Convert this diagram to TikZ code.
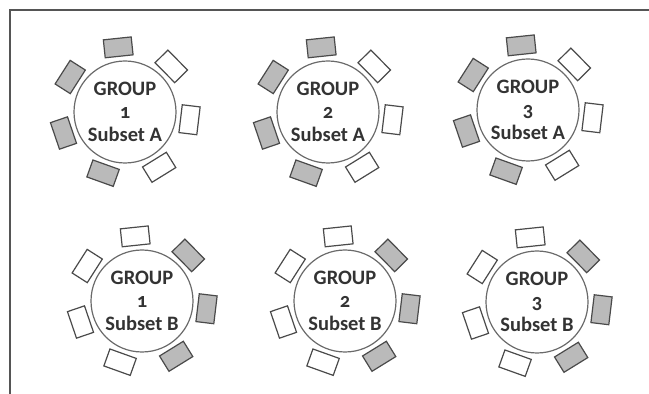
\documentclass[tikz,border=0pt]{standalone}
\usepackage{fontspec}
\setmainfont{Carlito}[Numbers=OldStyle]
\usetikzlibrary{calc}
\definecolor{ink}{HTML}{333333}
\definecolor{rim}{HTML}{6A6A6A}
\definecolor{seatgray}{HTML}{BABABA}
\definecolor{seatline}{HTML}{4A4A4A}
\definecolor{framec}{HTML}{555555}
\begin{document}
\begin{tikzpicture}[x=1pt,y=1pt,
  tablec/.style={circle, draw=rim, line width=1.2pt, minimum size=102pt, inner sep=0pt,
    align=center, font=\bfseries\fontsize{20.5}{23}\selectfont, text=ink},
  seatbox/.style={draw=seatline, line width=1.2pt, minimum width=28pt, minimum height=18pt, inner sep=0pt},
  seat1/.style={seatbox, fill=seatgray},
  seat0/.style={seatbox, fill=white}]
\useasboundingbox (0,0) rectangle (649,394);
\draw[framec, line width=1.5pt] (649,384) coordinate (fr) -- (10,384) coordinate (fc) -- (10,0) coordinate (fb);
\foreach \name/\x/\y/\num/\sub/\flip in {g1a/125/282/1/A/0, g2a/328/282/2/A/0, g3a/528/284/3/A/0,
    g1b/142/93/1/B/1, g2b/345/93/2/B/1, g3b/537/92/3/B/1} {
  \node[tablec] (\name) at (\x,\y) {GROUP\\\num\\Subset \sub};
  \foreach \k in {0,...,6} {
    \pgfmathsetmacro\ang{96-\k*360/7}
    \pgfmathsetmacro\rot{\ang-90}
    \pgfmathtruncatemacro\g{abs(\flip-(((\k==0)||(\k>3))?1:0))}
    \node[seat\g, rotate=\rot] (\name-c\k) at ($(\name.center)+(\ang:65)$) {};
  }
}
\end{tikzpicture}
\end{document}
